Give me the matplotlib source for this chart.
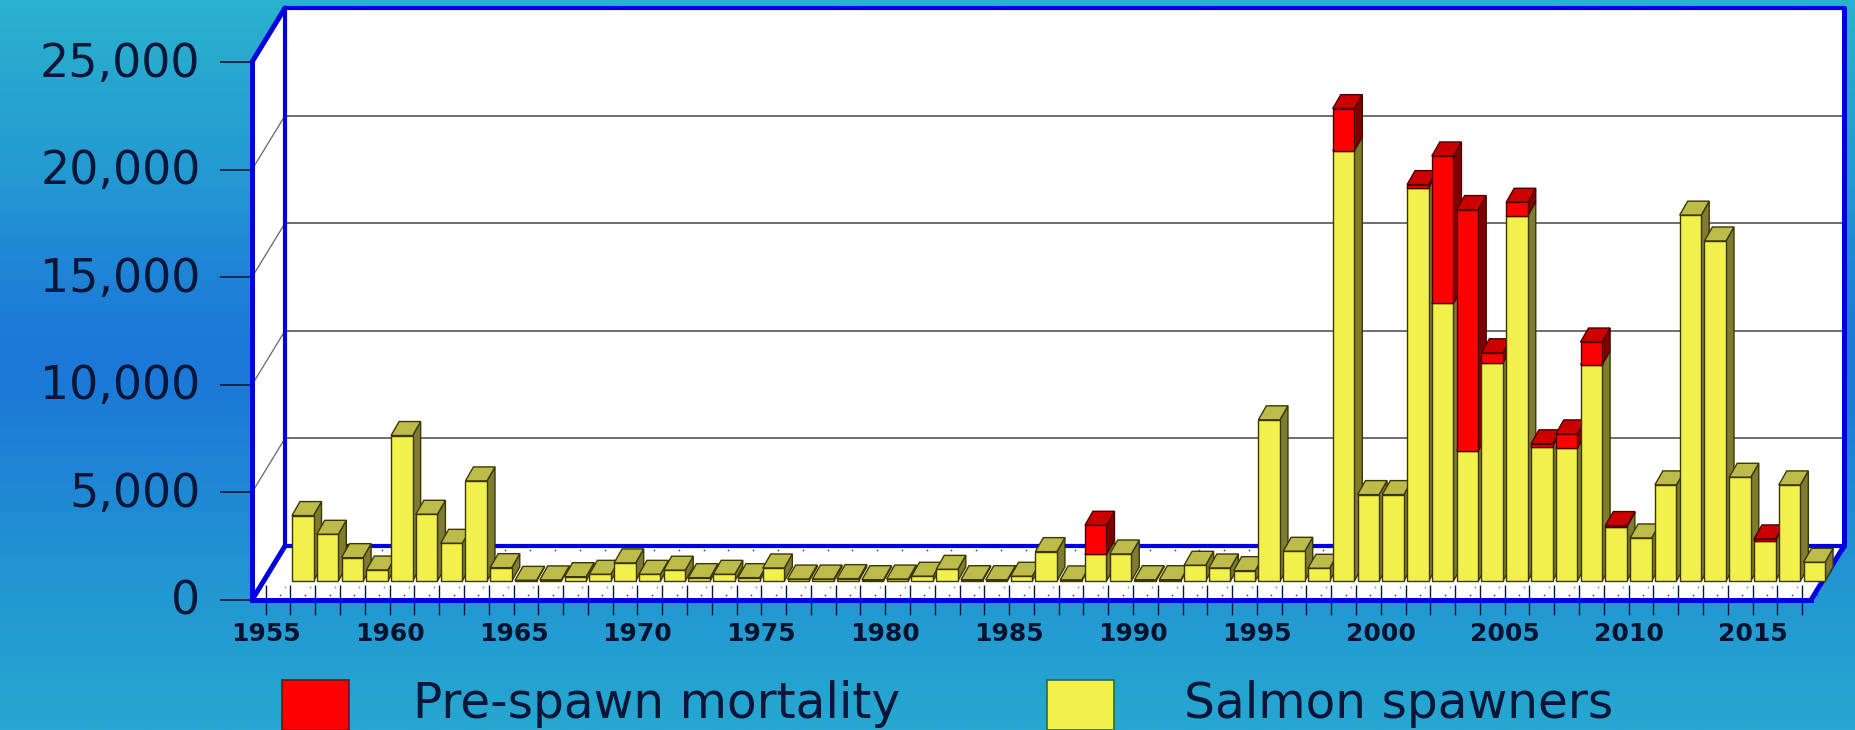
"""Salmon spawners and pre-spawn mortality, fake-3D stacked bars on a gradient."""

import matplotlib

matplotlib.use("Agg")
import matplotlib.pyplot as plt
import numpy as np
from matplotlib.colors import LinearSegmentedColormap
from matplotlib.patches import Polygon, Rectangle
from matplotlib.transforms import Affine2D, IdentityTransform

years = list(range(1956, 2018))
spawners = [
    3040, 2170, 1085, 510, 6760, 3100, 1750, 4650, 620, 30,
    50, 200, 310, 840, 310, 500, 155, 310, 155, 605,
    90, 90, 110, 60, 90, 220, 540, 60, 60, 220,
    1365, 50, 1240, 1255, 60, 60, 730, 605, 480, 7490,
    1380, 590, 20000, 4015, 4015, 18280, 12900, 6060, 10140, 16980,
    6250, 6170, 10050, 2525, 2000, 4465, 17000, 15800, 4820, 1875,
    4465, 870,
]
mortality = [
    0, 0, 0, 0, 0, 0, 0, 0, 0, 0,
    0, 0, 0, 0, 0, 0, 0, 0, 0, 0,
    0, 0, 0, 0, 0, 0, 0, 0, 0, 0,
    0, 0, 1350, 0, 0, 0, 0, 0, 0, 0,
    0, 0, 1950, 0, 0, 140, 6850, 11200, 465, 620,
    125, 665, 1055, 50, 0, 0, 0, 0, 0, 80,
    0, 0,
]
y_ticks = [0, 5000, 10000, 15000, 20000, 25000]
y_labels = ["0", "5,000", "10,000", "15,000", "20,000", "25,000"]
label_years = list(range(1955, 2016, 5))
all_ticks = list(range(1955, 2018))
legend_labels = ["Pre-spawn mortality", "Salmon spawners"]

W, H = 1856, 730
DEPTH_X, DEPTH_Y = 33, 54   # wall depth in pixels
BAR_DX, BAR_DY = 8, 14      # bar depth in pixels
BAR_LIFT = 19               # bars stand this far behind the front edge
BLUE = "#0000e0"
INK = "#0a1638"

YELLOW = ("#f2f04c", "#bdbb4a", "#7e7c30", "#3a3800")
RED = ("#ff0000", "#cc0000", "#800000", "#4a0000")

fig = plt.figure(figsize=(W / 100, H / 100), dpi=100)

# background gradient
bg = fig.add_axes([0, 0, 1, 1], zorder=0)
cmap = LinearSegmentedColormap.from_list(
    "bg", [(0, "#2ab2cd"), (0.25, "#2398d3"), (0.4, "#1e80d6"), (0.5, "#1c78d8"),
           (0.6, "#1e80d6"), (0.8, "#2296d2"), (1, "#26a8d0")])
bg.imshow(np.linspace(0, 1, 256)[:, None], aspect="auto", cmap=cmap,
          extent=(0, 1, 0, 1))
bg.axis("off")

ax = fig.add_axes([252 / W, (H - 600) / H, (1811 - 252) / W, (600 - 62) / H], zorder=1)
ax.patch.set_visible(False)
xmin = 1955 + (252 - 265.7) / 24.78
xmax = 1955 + (1811 - 265.7) / 24.78
ax.set_xlim(xmin, xmax)
ax.set_ylim(0, 25000)


def pt(x, v, depth=0.0):
    """Pixel position of a data point, pushed back into the box by depth (0-1)."""
    px, py = ax.transData.transform((x, v))
    return px + depth * DEPTH_X, py + depth * DEPTH_Y


def poly(points, face, edge="none", lw=0.0, z=1.0):
    ax.add_patch(Polygon(points, closed=True, facecolor=face, edgecolor=edge, lw=lw,
                         transform=IdentityTransform(), clip_on=False, zorder=z))


def line(a, b, color, lw, z=1.5):
    ax.plot([a[0], b[0]], [a[1], b[1]], color=color, lw=lw, zorder=z,
            transform=IdentityTransform(), clip_on=False, solid_capstyle="round")


# walls and floor
poly([pt(xmin, 0, 1), pt(xmax, 0, 1), pt(xmax, 25000, 1), pt(xmin, 25000, 1)], "white")
poly([pt(xmin, 0), pt(xmin, 0, 1), pt(xmin, 25000, 1), pt(xmin, 25000)], "white")
poly([pt(xmin, 0), pt(xmax, 0), pt(xmax, 0, 1), pt(xmin, 0, 1)], "white")

for v in y_ticks[1:-1]:
    line(pt(xmin, v, 1), pt(xmax, v, 1), "#555555", 1.2)
    line(pt(xmin, v), pt(xmin, v, 1), "#666666", 0.9)

# floor dots
for depth, color in [(0.1, "#3a3ab0"), (0.25, "#8a8a8a"), (0.92, "#3a3ab0")]:
    pts = np.array([pt(y + 0.45, 0, depth) for y in all_ticks])
    ax.scatter(pts[:, 0], pts[:, 1], s=1.6, color=color, linewidths=0, zorder=1.6,
               transform=IdentityTransform(), clip_on=False)

# blue frame
line(pt(xmin, 0, 1), pt(xmax, 0, 1), BLUE, 3, 2)
line(pt(xmin, 0, 1), pt(xmin, 25000, 1), BLUE, 3, 2)
line(pt(xmin, 25000, 1), pt(xmax, 25000, 1), BLUE, 3, 2)
line(pt(xmax, 0, 1), pt(xmax, 25000, 1), BLUE, 3.6, 2)
line(pt(xmin, 0), pt(xmin, 0, 1), BLUE, 3.6, 2)
line(pt(xmin, 25000), pt(xmin, 25000, 1), BLUE, 3.6, 2)
line(pt(xmax, 0), pt(xmax, 0, 1), BLUE, 3.6, 2)


def draw_segment(year, v0, v1, colors, z):
    """One block of a bar: front, side and top face."""
    front, top, side, edge = colors
    x0, x1 = year + 0.06, year + 0.93
    (lx, by), (rx, ty) = ax.transData.transform([(x0, v0), (x1, v1)])
    by, ty = by + BAR_LIFT, ty + BAR_LIFT
    poly([(rx, by), (rx + BAR_DX, by + BAR_DY), (rx + BAR_DX, ty + BAR_DY), (rx, ty)],
         side, edge, 1.0, z)
    poly([(lx, ty), (rx, ty), (rx + BAR_DX, ty + BAR_DY), (lx + BAR_DX, ty + BAR_DY)],
         top, edge, 1.0, z)
    poly([(lx, by), (rx, by), (rx, ty), (lx, ty)], front, edge, 1.0, z)


for i, (year, s, m) in enumerate(zip(years, spawners, mortality)):
    z = 3 + i * 0.01
    draw_segment(year, 0, s, YELLOW, z)
    if m:
        draw_segment(year, s, s + m, RED, z + 0.001)

# axes: ticks, labels, front frame
for name in ("top", "right"):
    ax.spines[name].set_visible(False)
for name in ("left", "bottom"):
    ax.spines[name].set_color(BLUE)
    ax.spines[name].set_linewidth(3.6)
    ax.spines[name].set_zorder(2.5)

ax.set_yticks(y_ticks, y_labels)
ax.tick_params(axis="y", direction="out", length=23, width=1.2, color=INK,
               labelcolor=INK, labelsize=33, pad=14)
for label in ax.get_yticklabels():
    label.set_verticalalignment("center_baseline")
    label.set_transform(label.get_transform() + Affine2D().translate(0, 3))
ax.set_xticks(label_years, [str(y) for y in label_years])
ax.set_xticks(all_ticks, minor=True)
ax.tick_params(axis="x", which="both", direction="inout", length=21, width=1.0, color=INK)
ax.tick_params(axis="x", which="major", labelcolor="#06122e", labelsize=18, pad=5)
for label in ax.get_xticklabels():
    label.set_fontweight("bold")

# legend, laid out by hand like the original slide
for (x0, color, edge), text, tx in zip(
        [(282, RED[0], "#7a1010"), (1047, YELLOW[0], "#2f6b3a")], legend_labels, [413, 1184]):
    fig.add_artist(Rectangle((x0 / W, 0), 67 / W, 50 / H, transform=fig.transFigure,
                             facecolor=color, edgecolor=edge, lw=1.2))
    fig.text(tx / W, (H - 704) / H, text, color=INK, fontsize=35, va="center", ha="left")

fig.savefig("out.png", dpi=100)
plt.close(fig)
